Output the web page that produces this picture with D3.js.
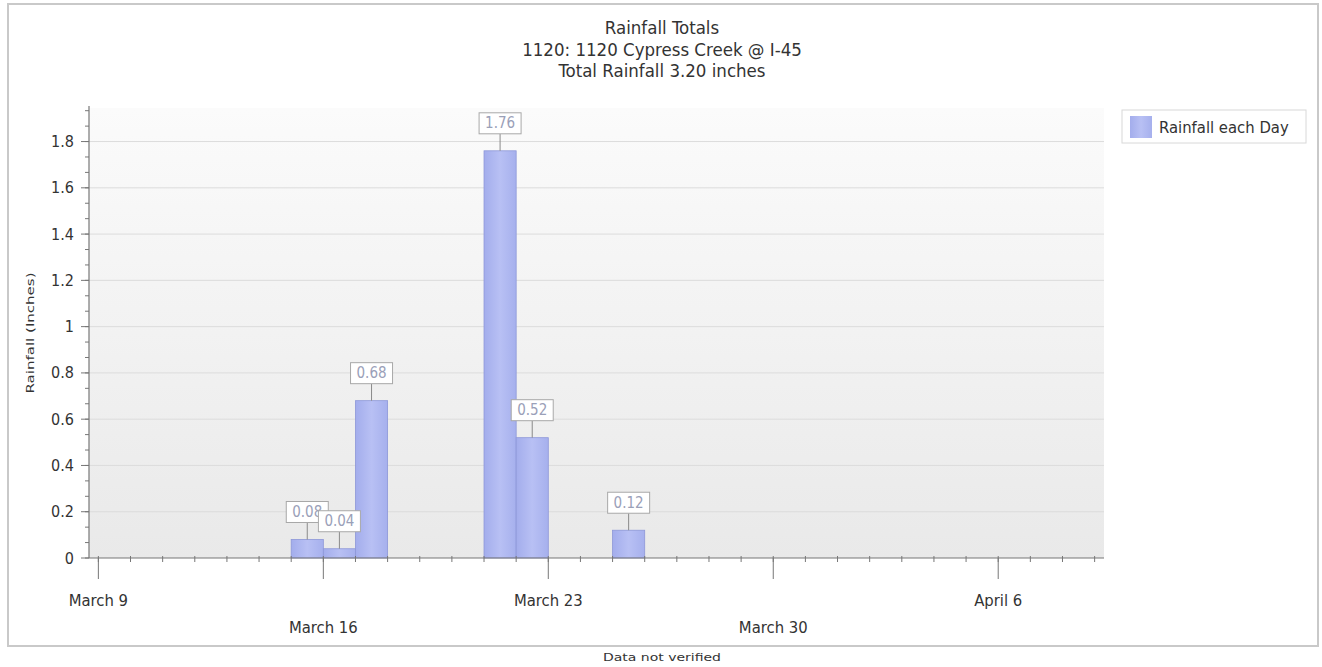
<!DOCTYPE html>
<html>
<head>
<meta charset="utf-8">
<script src="https://cdn.jsdelivr.net/npm/d3@7"></script>
<style>
  html, body { margin: 0; padding: 0; background: #fff; }
  svg { display: block; font-family: "DejaVu Sans Condensed", Tahoma, "DejaVu Sans", sans-serif; }
</style>
</head>
<body>
<div id="chart"></div>
<script>
// daily rainfall, Cypress Creek @ I-45 (inches)
var days = ["2012-03-15", "2012-03-16", "2012-03-17", "2012-03-21", "2012-03-22", "2012-03-25"];
var rain = [0.08, 0.04, 0.68, 1.76, 0.52, 0.12];
var titleLines = ["Rainfall Totals", "1120: 1120 Cypress Creek @ I-45", "Total Rainfall 3.20 inches"];
var majorDays = ["2012-03-09", "2012-03-16", "2012-03-23", "2012-03-30", "2012-04-06"];
var majorLabels = ["March 9", "March 16", "March 23", "March 30", "April 6"];
var yTicks = [0, 0.2, 0.4, 0.6, 0.8, 1, 1.2, 1.4, 1.6, 1.8];

(function () {
  var W = 1322, H = 667;
  var m = { t: 108, r: 218, b: 109, l: 89 };
  var iw = W - m.l - m.r, ih = H - m.t - m.b;
  var parse = d3.utcParse("%Y-%m-%d");
  var TEXT = "#333", GRID = "#dcdcdc", AXIS = "#777";

  var x = d3.scaleUtc()
    .domain([Date.UTC(2012, 2, 8, 17), Date.UTC(2012, 3, 9, 7)])
    .range([0, iw]);
  var y = d3.scaleLinear().domain([0, 1.945]).range([ih, 0]);

  var svg = d3.select("#chart").append("svg").attr("width", W).attr("height", H);
  var defs = svg.append("defs");
  var bg = defs.append("linearGradient").attr("id", "bg").attr("x1", 0).attr("y1", 0).attr("x2", 0).attr("y2", 1);
  bg.append("stop").attr("offset", "0%").attr("stop-color", "#fbfbfb");
  bg.append("stop").attr("offset", "100%").attr("stop-color", "#e9e9e9");
  var bar = defs.append("linearGradient").attr("id", "bar").attr("x1", 0).attr("y1", 0).attr("x2", 1).attr("y2", 0);
  bar.append("stop").attr("offset", "0%").attr("stop-color", "#a3adec");
  bar.append("stop").attr("offset", "50%").attr("stop-color", "#b8c0f4");
  bar.append("stop").attr("offset", "100%").attr("stop-color", "#a6b0ed");

  // outer frame
  svg.append("rect").attr("x", 8).attr("y", 4).attr("width", 1310).attr("height", 642)
    .attr("fill", "#fff").attr("stroke", "#c9c9c9").attr("stroke-width", 2);

  // titles
  titleLines.forEach(function (t, i) {
    svg.append("text").attr("x", 662).attr("y", 34 + i * 21.5).attr("text-anchor", "middle")
      .attr("font-size", 18.5).attr("fill", TEXT).text(t);
  });

  var g = svg.append("g").attr("transform", "translate(" + m.l + "," + m.t + ")");
  g.append("rect").attr("width", iw).attr("height", ih).attr("fill", "url(#bg)");

  // horizontal grid
  yTicks.slice(1).forEach(function (t) {
    g.append("line").attr("x1", 0).attr("x2", iw).attr("y1", y(t)).attr("y2", y(t))
      .attr("stroke", GRID).attr("stroke-width", 1);
  });

  // bars: each day spans its own date to the next
  days.forEach(function (d, i) {
    var x0 = x(parse(d)), x1 = x(d3.utcDay.offset(parse(d), 1));
    g.append("rect").attr("x", x0).attr("y", y(rain[i])).attr("width", x1 - x0).attr("height", y(0) - y(rain[i]))
      .attr("fill", "url(#bar)").attr("stroke", "#8d97d8").attr("stroke-width", 0.8);
  });

  // y axis
  var ya = g.append("g");
  ya.append("line").attr("x1", 0).attr("x2", 0).attr("y1", -2).attr("y2", ih).attr("stroke", AXIS).attr("stroke-width", 1.2);
  d3.range(0, 1.94, 0.2 / 3).forEach(function (t) {
    ya.append("line").attr("x1", -4).attr("x2", 0).attr("y1", y(t)).attr("y2", y(t)).attr("stroke", AXIS);
  });
  yTicks.forEach(function (t) {
    ya.append("line").attr("x1", -8).attr("x2", 0).attr("y1", y(t)).attr("y2", y(t)).attr("stroke", AXIS);
    ya.append("text").attr("x", -15).attr("y", y(t) + 5.5).attr("text-anchor", "end")
      .attr("font-size", 16).attr("fill", TEXT).text(d3.format("~g")(t));
  });
  svg.append("text").attr("transform", "translate(34," + (m.t + ih / 2) + ") rotate(-90)")
    .attr("text-anchor", "middle").attr("font-size", 10.5).attr("fill", TEXT)
    .attr("textLength", 121).attr("lengthAdjust", "spacingAndGlyphs").text("Rainfall (Inches)");

  // x axis
  var xa = g.append("g").attr("transform", "translate(0," + ih + ")");
  xa.append("line").attr("x1", 0).attr("x2", iw).attr("stroke", AXIS).attr("stroke-width", 1.2);
  d3.utcDay.range(parse(majorDays[0]), x.domain()[1]).forEach(function (d) {
    xa.append("line").attr("x1", x(d)).attr("x2", x(d)).attr("y1", -2).attr("y2", 4).attr("stroke", AXIS);
  });
  majorDays.forEach(function (d, i) {
    var px = x(parse(d));
    xa.append("line").attr("x1", px).attr("x2", px).attr("y1", 0).attr("y2", 21).attr("stroke", AXIS);
    xa.append("text").attr("x", px).attr("y", i % 2 ? 75 : 48).attr("text-anchor", "middle")
      .attr("font-size", 16.5).attr("fill", TEXT).text(majorLabels[i]);
  });

  // value labels
  days.forEach(function (d, i) {
    var cx = (x(parse(d)) + x(d3.utcDay.offset(parse(d), 1))) / 2, top = y(rain[i]);
    var bw = 42, bh = 21, gap = 17;
    g.append("line").attr("x1", cx).attr("x2", cx).attr("y1", top - gap).attr("y2", top)
      .attr("stroke", "#8a8a8a");
    g.append("rect").attr("x", cx - bw / 2).attr("y", top - gap - bh).attr("width", bw).attr("height", bh)
      .attr("fill", "#fff").attr("stroke", "#a8a8a8");
    g.append("text").attr("x", cx).attr("y", top - gap - 5.5).attr("text-anchor", "middle")
      .attr("font-size", 15).attr("fill", "#9aa0b8").text(rain[i].toFixed(2));
  });

  // legend
  var lg = svg.append("g").attr("transform", "translate(1122,110)");
  lg.append("rect").attr("width", 184).attr("height", 33).attr("fill", "#fff").attr("stroke", "#d8d8d8");
  lg.append("rect").attr("x", 8).attr("y", 6).attr("width", 22).attr("height", 22).attr("fill", "url(#bar)");
  lg.append("text").attr("x", 37).attr("y", 22.5).attr("font-size", 16.5).attr("fill", TEXT).text("Rainfall each Day");

  svg.append("text").attr("x", 662).attr("y", 661).attr("text-anchor", "middle")
    .attr("font-size", 10.5).attr("fill", TEXT)
    .attr("textLength", 118).attr("lengthAdjust", "spacingAndGlyphs").text("Data not verified");
})();
</script>
</body>
</html>
